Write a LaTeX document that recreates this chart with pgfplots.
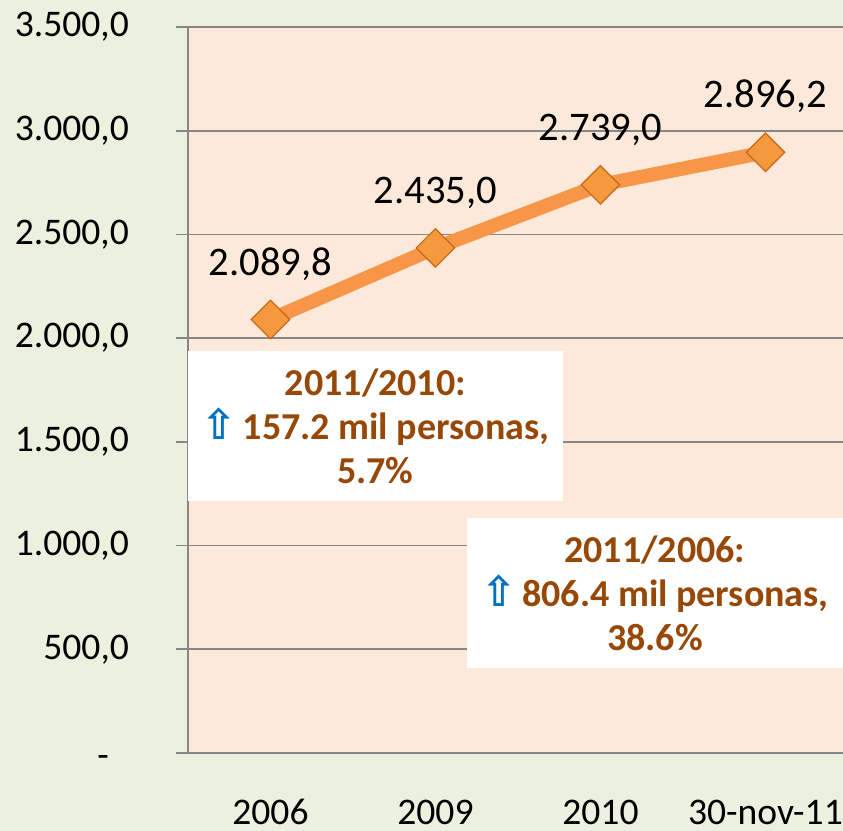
\documentclass[border=0pt]{standalone}
\usepackage{pgfplots}
\pgfplotsset{compat=1.18}
\usepackage{fontspec}
\setmainfont{Carlito}
\newfontfamily\arrowfont{DejaVu Sans}
\definecolor{outerbg}{HTML}{EBF1DE}
\definecolor{plotbg}{HTML}{FDE9D9}
\definecolor{gridgray}{HTML}{868686}
\definecolor{lineorange}{HTML}{F79646}
\definecolor{markorange}{HTML}{F59A3C}
\definecolor{markedge}{HTML}{C8661C}
\definecolor{notebrown}{HTML}{974706}
\definecolor{arrowblue}{HTML}{0070C0}
\newcommand{\uparr}{{\arrowfont\color{arrowblue}\fontsize{21}{22}\selectfont ⇧}\kern3pt}
\begin{document}
\begin{tikzpicture}
\useasboundingbox (-94pt,-39pt) rectangle (327.5pt,376.5pt);
\fill[outerbg] (-94pt,-39pt) rectangle (327.5pt,376.5pt);
\begin{axis}[
    at={(0,0)}, anchor=south west,
    scale only axis,
    width=327.5pt, height=363pt,
    xmin=-0.5, xmax=3.47,
    ymin=0, ymax=3500,
    axis lines*=left,
    axis line style={gridgray, line width=0.8pt},
    axis background/.style={fill=plotbg},
    ymajorgrids,
    grid style={gridgray, line width=0.8pt},
    tick align=outside,
    tick style={gridgray, line width=0.8pt},
    ytick={0,500,...,3500},
    yticklabels={\vphantom{0}\raisebox{-1.2pt}[0pt][0pt]{-}\kern10pt, {500,0}, {1.000,0}, {1.500,0}, {2.000,0}, {2.500,0}, {3.000,0}, {3.500,0}},
    major tick length=6pt,
    xtick={0,1,2,3},
    xticklabels={2006, 2009, 2010, 30-nov-11},
    x tick style={draw=none},
    minor xtick={-0.5,0.5,1.5,2.5},
    minor tick length=6pt,
    minor x tick style={gridgray, line width=0.8pt},
    ticklabel style={font=\fontsize{18.8}{22}\selectfont},
    yticklabel style={anchor=east, xshift=-20pt, yshift=0pt},
    xticklabel style={anchor=base, inner sep=0pt, yshift=-30pt},
    clip=false,
    nodes near coords={\pgfmathprintnumber[fixed,fixed zerofill,precision=1,1000 sep={.},dec sep={,}]{\pgfplotspointmeta}},
    every node near coord/.append style={anchor=south, yshift=16pt, text=black, font=\fontsize{20.3}{24}\selectfont},
    /pgf/number format/assume math mode=true,
]
\addplot[color=lineorange, line width=7pt, mark=square*,
    mark size=6.8pt,
    mark options={rotate=45, fill=markorange, draw=markedge, line width=0.6pt}]
coordinates {
    (0,2089.8)
    (1,2435.0)
    (2,2739.0)
    (3,2896.2)
};
\fill[white] (axis cs:-0.5,1937) rectangle (axis cs:1.77,1216);
\node[align=center, text=notebrown, font=\bfseries\fontsize{19}{22}\selectfont]
    at (axis cs:0.636,1577) {2011/2010:\\\uparr 157.2 mil personas,\\5.7\%};
\fill[white] (axis cs:1.19,1135) rectangle (axis cs:3.47,409);
\node[align=center, text=notebrown, font=\bfseries\fontsize{19}{22}\selectfont]
    at (axis cs:2.33,772) {2011/2006:\\\uparr 806.4 mil personas,\\38.6\%};
\end{axis}
\end{tikzpicture}
\end{document}
